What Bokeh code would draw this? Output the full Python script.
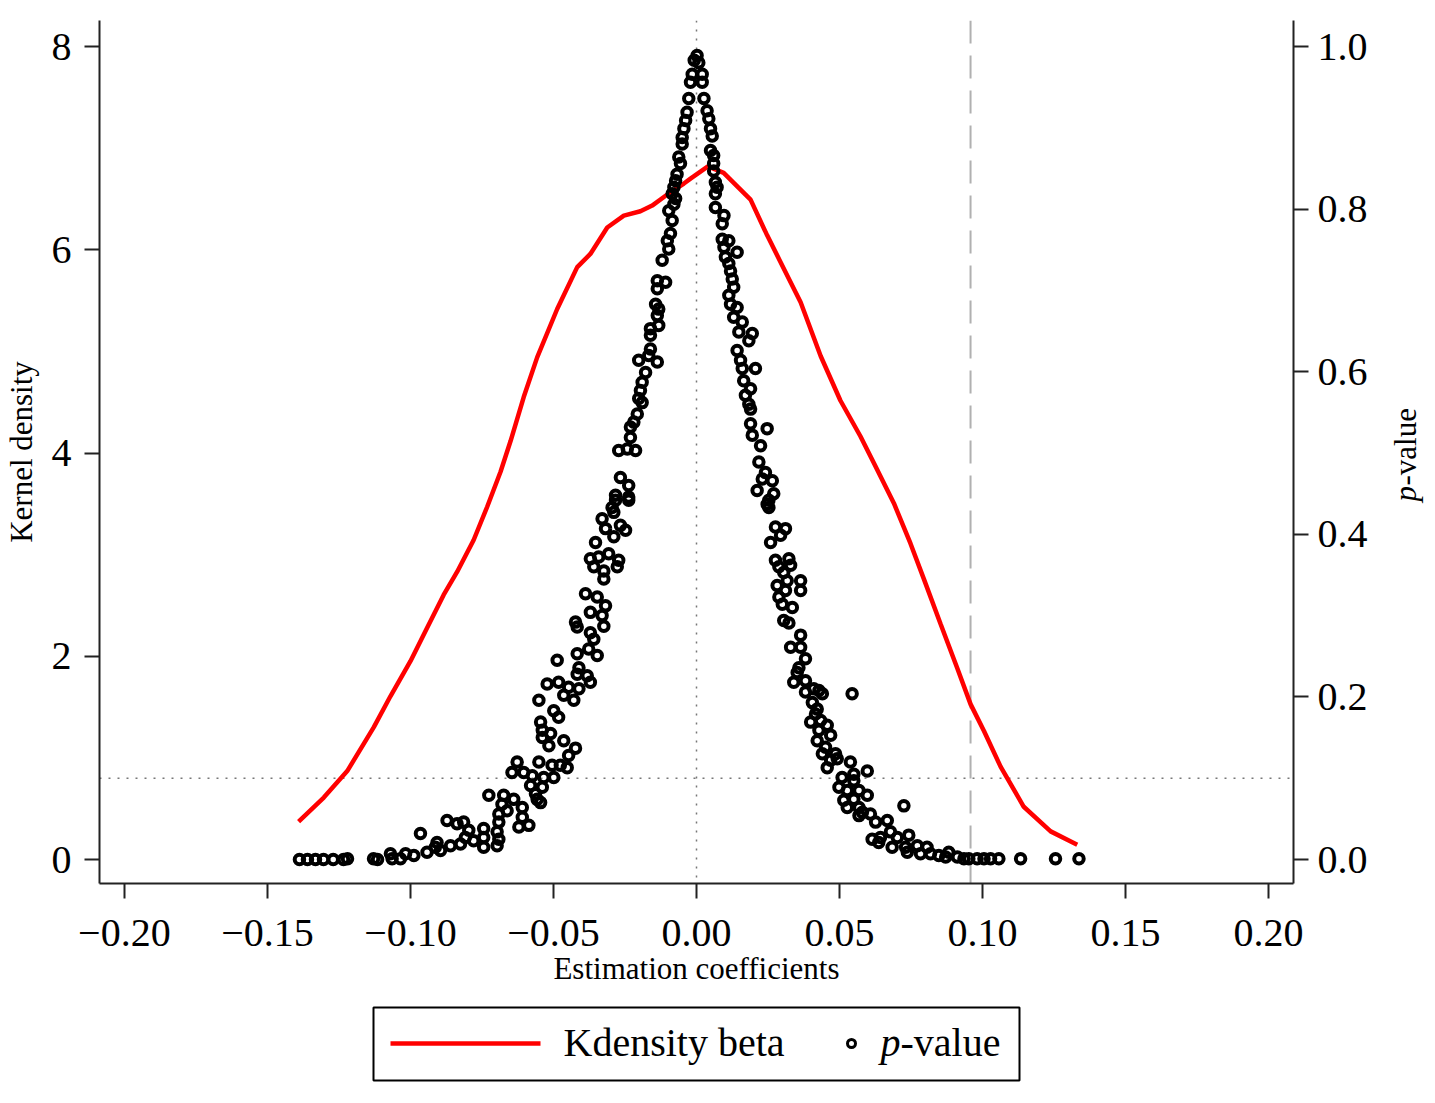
import math
from bokeh.plotting import figure
from bokeh.models import (Range1d, LinearAxis, FixedTicker, CustomJSTickFormatter,
                          PrintfTickFormatter, Span, ColumnDataSource)
from bokeh.layouts import column, row
from bokeh.core.properties import value
from bokeh.embed import file_html
from bokeh.resources import INLINE

FONT = "Liberation Serif"

# ---------------- data ----------------
coef_grid = [-0.1391, -0.1303, -0.1221, -0.1128, -0.1070, -0.1000, -0.0942, -0.0884,
             -0.0837, -0.0779, -0.0732, -0.0685, -0.0650, -0.0604, -0.0557, -0.0487,
             -0.0417, -0.0371, -0.0312, -0.0254, -0.0196, -0.0155, -0.0102, -0.0044,
             -0.0021, 0.0040, 0.0095, 0.0189, 0.0247, 0.0294, 0.0364, 0.0434, 0.0503,
             0.0573, 0.0620, 0.0690, 0.0748, 0.0795, 0.0853, 0.0912, 0.0958, 0.1005,
             0.1063, 0.1144, 0.1238, 0.1331]
kdensity = [0.372, 0.610, 0.870, 1.303, 1.606, 1.952, 2.278, 2.603,
            2.830, 3.144, 3.469, 3.815, 4.118, 4.551, 4.941, 5.417,
            5.829, 5.959, 6.219, 6.336, 6.379, 6.435, 6.544, 6.652,
            6.700, 6.820, 6.757, 6.493, 6.142, 5.878, 5.483, 4.955, 4.517,
            4.165, 3.902, 3.506, 3.110, 2.759, 2.320, 1.880, 1.529, 1.265,
            0.914, 0.519, 0.277, 0.146]

coef = [
    -0.1388, -0.1360, -0.1332, -0.1304, -0.1270, -0.1234, -0.1220, -0.1129, -0.1115,
    -0.1070, -0.1064, -0.1035, -0.1017, -0.0988, -0.0942, -0.0895, -0.0913, -0.0907, -0.0965,
    -0.0860, -0.0825, -0.0779, -0.0808, -0.0796, -0.0814, -0.0837, -0.0872, -0.0744, -0.0744,
    -0.0744, -0.0697, -0.0691, -0.0697, -0.0691, -0.0621, -0.0586, -0.0609, -0.0609, -0.0691,
    -0.0662, -0.0680, -0.0639, -0.0674, -0.0726, -0.0545, -0.0557, -0.0563, -0.0539, -0.0580,
    -0.0534, -0.0499, -0.0574, -0.0604, -0.0645, -0.0452, -0.0476, -0.0505, -0.0551, -0.0627,
    -0.0447, -0.0423, -0.0516, -0.0464, -0.0539, -0.0510, -0.0539, -0.0545, -0.0482, -0.0499,
    -0.0551, -0.0429, -0.0464, -0.0411, -0.0447, -0.0482, -0.0522, -0.0371, -0.0382, -0.0417,
    -0.0411, -0.0487, -0.0347, -0.0377, -0.0417, -0.0359, -0.0371, -0.0417, -0.0423, -0.0324,
    -0.0330, -0.0371, -0.0318, -0.0347, -0.0388, -0.0324, -0.0277, -0.0324, -0.0359, -0.0272,
    -0.0307, -0.0342, -0.0371, -0.0353, -0.0289, -0.0248, -0.0266, -0.0318, -0.0330, -0.0289,
    -0.0237, -0.0283,
    -0.0295, -0.0237, -0.0283, -0.0237, -0.0266, -0.0213, -0.0242, -0.0272, -0.0231, -0.0231,
    -0.0219, -0.0207, -0.0190, -0.0202, -0.0196, -0.0190, -0.0178, -0.0137, -0.0167, -0.0202,
    -0.0161, -0.0161, -0.0161, -0.0132, -0.0137, -0.0132, -0.0143, -0.0137, -0.0108, -0.0137,
    -0.0120, -0.0097, -0.0102, -0.0091, -0.0085, -0.0097, -0.0079, -0.0073, -0.0085, -0.0079,
    -0.0073, -0.0068, -0.0056, -0.0062, -0.0050, -0.0050, -0.0044, -0.0038, -0.0033, -0.0027,
    -0.0021, -0.0015, -0.0008, 0.0002, 0.0008, 0.0020, 0.0020, 0.0026, 0.0037, 0.0043,
    0.0049, 0.0055, 0.0049, 0.0060, 0.0060, 0.0060, 0.0066, 0.0072, 0.0066, 0.0066,
    0.0096, 0.0090, 0.0090, 0.0113, 0.0096, 0.0142, 0.0101, 0.0113, 0.0119, 0.0125,
    0.0130, 0.0113, 0.0119, 0.0142, 0.0130, 0.0160, 0.0148, 0.0195, 0.0183, 0.0142,
    0.0154, 0.0160, 0.0206, 0.0165, 0.0189, 0.0171, 0.0183, 0.0189, 0.0189, 0.0247,
    0.0195, 0.0224, 0.0218, 0.0241, 0.0230, 0.0265, 0.0212, 0.0270, 0.0253,
    0.0247, 0.0253, 0.0276, 0.0311, 0.0294, 0.0259, 0.0276, 0.0323, 0.0288, 0.0329,
    0.0305, 0.0364, 0.0282, 0.0317, 0.0364, 0.0311, 0.0288, 0.0300, 0.0335, 0.0305,
    0.0323, 0.0364, 0.0329, 0.0364, 0.0381, 0.0358, 0.0352, 0.0340, 0.0381, 0.0544,
    0.0381, 0.0410, 0.0440, 0.0428, 0.0405, 0.0422, 0.0416, 0.0399, 0.0434, 0.0457,
    0.0428, 0.0469, 0.0422, 0.0451, 0.0440, 0.0486, 0.0469, 0.0492, 0.0457, 0.0538,
    0.0597, 0.0509, 0.0550, 0.0550, 0.0498, 0.0527, 0.0568, 0.0597, 0.0515, 0.0550,
    0.0527, 0.0568, 0.0580, 0.0725, 0.0608, 0.0568, 0.0667, 0.0626, 0.0678, 0.0742,
    0.0614, 0.0643, 0.0637, 0.0702, 0.0684, 0.0731, 0.0772, 0.0806, 0.0737, 0.0783,
    0.0818, 0.0847, 0.0882, 0.0871, 0.0912, 0.0935, 0.0952, 0.0981, 0.1005, 0.1028,
    0.1057, 0.1133, 0.1255, 0.1337,
]
pval = [
    0.000, 0.000, 0.000, 0.000, 0.000, 0.000, 0.001, 0.001, 0.000,
    0.007, 0.001, 0.001, 0.007, 0.005, 0.009, 0.011, 0.015, 0.021, 0.032,
    0.017, 0.019, 0.023, 0.027, 0.036, 0.046, 0.044, 0.048, 0.015, 0.027,
    0.038, 0.017, 0.025, 0.034, 0.046, 0.040, 0.042, 0.052, 0.064, 0.056,
    0.060, 0.068, 0.074, 0.079, 0.079, 0.070, 0.074, 0.081, 0.089, 0.091,
    0.101, 0.101, 0.103, 0.107, 0.107, 0.113, 0.116, 0.116, 0.120, 0.120,
    0.128, 0.137, 0.140, 0.146, 0.150, 0.155, 0.159, 0.169, 0.175, 0.183,
    0.196, 0.196, 0.202, 0.210, 0.212, 0.218, 0.216, 0.218, 0.226, 0.228,
    0.236, 0.245, 0.251, 0.259, 0.253, 0.271, 0.279, 0.286, 0.292, 0.287,
    0.300, 0.304, 0.312, 0.323, 0.327, 0.345, 0.360, 0.355, 0.360, 0.368,
    0.376, 0.372, 0.370, 0.390, 0.397, 0.405, 0.411, 0.407, 0.419, 0.427,
    0.442, 0.442,
    0.433, 0.446, 0.448, 0.460, 0.470, 0.503, 0.505, 0.503, 0.519, 0.532,
    0.538, 0.548, 0.562, 0.567, 0.577, 0.587, 0.599, 0.612, 0.620, 0.614,
    0.628, 0.645, 0.653, 0.657, 0.669, 0.677, 0.683, 0.702, 0.710, 0.712,
    0.737, 0.751, 0.761, 0.770, 0.786, 0.798, 0.806, 0.813, 0.819, 0.827,
    0.835, 0.843, 0.856, 0.864, 0.880, 0.888, 0.899, 0.909, 0.919, 0.936,
    0.956, 0.966, 0.983, 0.989, 0.980, 0.966, 0.956, 0.936, 0.921, 0.911,
    0.899, 0.890, 0.872, 0.866, 0.856, 0.847, 0.833, 0.827, 0.819, 0.802,
    0.792, 0.782, 0.763, 0.761, 0.753, 0.747, 0.741, 0.733, 0.724, 0.714,
    0.704, 0.694, 0.683, 0.679, 0.667, 0.661, 0.649, 0.647, 0.638, 0.626,
    0.614, 0.604, 0.604, 0.589, 0.579, 0.571, 0.560, 0.554, 0.536, 0.530,
    0.522, 0.509, 0.489, 0.476, 0.468, 0.466, 0.454, 0.450, 0.442,
    0.437, 0.433, 0.409, 0.407, 0.399, 0.390, 0.368, 0.370, 0.360, 0.362,
    0.353, 0.343, 0.337, 0.343, 0.331, 0.331, 0.323, 0.314, 0.310, 0.294,
    0.291, 0.276, 0.261, 0.261, 0.247, 0.236, 0.230, 0.218, 0.220, 0.204,
    0.206, 0.210, 0.204, 0.208, 0.193, 0.185, 0.179, 0.169, 0.171, 0.165,
    0.159, 0.153, 0.146, 0.138, 0.130, 0.130, 0.122, 0.124, 0.113, 0.120,
    0.109, 0.101, 0.105, 0.097, 0.089, 0.085, 0.085, 0.079, 0.073, 0.074,
    0.064, 0.064, 0.058, 0.066, 0.056, 0.054, 0.048, 0.046, 0.034, 0.030,
    0.025, 0.027, 0.021, 0.027, 0.015, 0.015, 0.017, 0.015, 0.009, 0.007,
    0.007, 0.005, 0.009, 0.003, 0.003, 0.001, 0.001, 0.001, 0.001, 0.001,
    0.001, 0.001, 0.001, 0.001,
]

x_ticks = [-0.20, -0.15, -0.10, -0.05, 0.0, 0.05, 0.10, 0.15, 0.20]
density_ticks = [0, 2, 4, 6, 8]
p_ticks = [0.0, 0.2, 0.4, 0.6, 0.8, 1.0]
p_threshold = 0.1
zero_line = 0.0
beta_mark = 0.0958

x_label = "Estimation coefficients"
yl_label = "Kernel density"
legend_line_label = "Kdensity beta"

# ---------------- main figure ----------------
W = 1375          # main figure width (page x 0..1375)
SW = 55           # side strip holding the right axis title (page x 1375..1430)
H = 999
FL, FR, FT, FB = 99, 1293, 20, 883   # frame edges on the page
p = figure(width=W, height=H, output_backend="svg", toolbar_location=None,
           x_range=Range1d(-0.2087, 0.2087), y_range=Range1d(-0.236, 8.256),
           min_border_left=FL, min_border_right=W - FR, min_border_top=FT,
           min_border_bottom=H - FB)
p.extra_y_ranges = {"p": Range1d(-0.236 / 8, 8.256 / 8)}
p.outline_line_color = None
p.xgrid.visible = False
p.ygrid.visible = False
p.background_fill_color = "white"
p.border_fill_color = "white"

right_axis = LinearAxis(y_range_name="p", ticker=FixedTicker(ticks=p_ticks),
                        formatter=PrintfTickFormatter(format="%.1f"))
p.add_layout(right_axis, "right")

p.xaxis.ticker = FixedTicker(ticks=x_ticks)
p.xaxis.formatter = CustomJSTickFormatter(
    code="return (tick < -1e-9 ? '\\u2212' : '') + Math.abs(tick).toFixed(2);")
p.yaxis[0].ticker = FixedTicker(ticks=density_ticks)

for ax in [p.xaxis[0], p.yaxis[0], right_axis]:
    ax.axis_line_width = 2
    ax.axis_line_color = "#222222"
    ax.major_tick_line_width = 2
    ax.major_tick_line_color = "#222222"
    ax.major_tick_out = 15
    ax.major_tick_in = 0
    ax.minor_tick_line_color = None
    ax.major_label_text_font = FONT
    ax.major_label_text_font_size = "40px"
    ax.major_label_text_color = "black"
    ax.axis_label_text_font = FONT
    ax.axis_label_text_font_size = "31px"
    ax.axis_label_text_font_style = "normal"
    ax.axis_label_text_color = "black"

p.xaxis.major_label_standoff = 21
p.xaxis.axis_label = x_label
p.xaxis.axis_label_standoff = 2
p.yaxis[0].major_label_standoff = 13
p.yaxis[0].axis_label = yl_label
p.yaxis[0].axis_label_standoff = 10
right_axis.major_label_standoff = 9

# reference lines
p.add_layout(Span(location=zero_line, dimension="height", line_color="#777777",
                  line_width=1.5, line_dash="2 7", level="underlay"))
p.add_layout(Span(location=p_threshold, dimension="width", y_range_name="p",
                  line_color="#777777", line_width=1.5, line_dash="2 7", level="underlay"))
p.add_layout(Span(location=beta_mark, dimension="height", line_color="#b0b0b0",
                  line_width=2, line_dash="23 12", level="underlay"))

# data
p.line(coef_grid, kdensity, line_color="#ff0000", line_width=4.5)
src = ColumnDataSource(dict(coef=coef, p=pval))
p.scatter(x="coef", y="p", source=src, y_range_name="p", marker="circle", size=9.5,
          fill_color=None, line_color="black", line_width=4)

# ---------------- side strip: right axis title "p-value" ----------------
side = figure(width=SW, height=H, output_backend="svg", toolbar_location=None,
              x_range=Range1d(W, W + SW), y_range=Range1d(FT - FB, 0),
              min_border_left=0, min_border_right=0, min_border_top=FT,
              min_border_bottom=H - FB, x_axis_type=None, y_axis_type=None)
side.outline_line_color = None
side.xgrid.visible = False
side.ygrid.visible = False
# data y of the strip = FT - page y
side.text(x=[1405], y=[FT - 501], text=["p"], angle=math.pi / 2, text_font=value(FONT),
          text_font_size="31px", text_font_style="italic", text_align="left",
          text_baseline="middle", text_color="black")
side.text(x=[1405], y=[FT - 485], text=["-value"], angle=math.pi / 2, text_font=value(FONT),
          text_font_size="31px", text_align="left", text_baseline="middle",
          text_color="black")

# ---------------- legend figure ----------------
LH = 95
TOP = H + LH  # data y = TOP - page y
lg = figure(width=W, height=LH, output_backend="svg", toolbar_location=None,
            x_range=Range1d(FL, FR), y_range=Range1d(0, LH), min_border=0,
            x_axis_type=None, y_axis_type=None)
lg.outline_line_color = None
lg.xgrid.visible = False
lg.ygrid.visible = False
lg.quad(left=[373], right=[1019], bottom=[TOP - 1080], top=[TOP - 1007], fill_color=None,
        line_color="black", line_width=2)
lg.line([390, 540], [TOP - 1043, TOP - 1043], line_color="#ff0000", line_width=4.5)
lg.text(x=[563], y=[TOP - 1042], text=[legend_line_label], text_font=value(FONT),
        text_font_size="40px", text_align="left", text_baseline="middle", text_color="black")
lg.scatter([851], [TOP - 1043], marker="circle", size=8, fill_color=None, line_color="black",
           line_width=3)
lg.text(x=[880], y=[TOP - 1042], text=["p"], text_font=value(FONT), text_font_style="italic",
        text_font_size="40px", text_align="left", text_baseline="middle", text_color="black")
lg.text(x=[900], y=[TOP - 1042], text=["-value"], text_font=value(FONT),
        text_font_size="40px", text_align="left", text_baseline="middle", text_color="black")

layout = row(column(p, lg), side)
open("out.html", "w").write(file_html(layout, INLINE))
